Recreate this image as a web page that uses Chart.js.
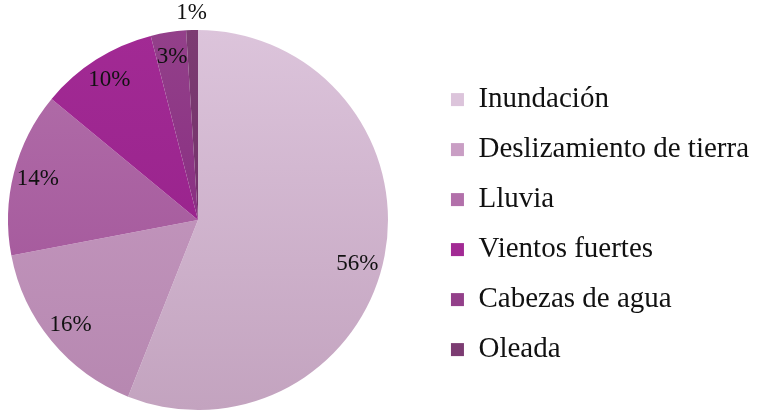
<!DOCTYPE html>
<html>
<head>
<meta charset="utf-8">
<script src="https://cdn.jsdelivr.net/npm/chart.js@4"></script>
<style>
  body { margin: 0; background: #fff; }
  #wrap { width: 759px; height: 411px; }
</style>
</head>
<body>
<div id="wrap"><canvas id="pie"></canvas></div>
<script>
const labels = ['Inundación', 'Deslizamiento de tierra', 'Lluvia', 'Vientos fuertes', 'Cabezas de agua', 'Oleada']
const values = [56, 16, 14, 10, 3, 1]
const topColors = ['#dcc4db', '#c99ec4', '#b270aa', '#a22a94', '#93408a', '#7c3c72']
const bottomColors = ['#c3a3bf', '#b687b0', '#9f4e96', '#931f88', '#80207a', '#6c2864']

function sliceColor(context) {
  const i = context.dataIndex
  const area = context.chart.chartArea
  if (!area || i === undefined) return topColors[i] || topColors[0]
  const grad = context.chart.ctx.createLinearGradient(0, area.top, 0, area.bottom)
  grad.addColorStop(0, topColors[i])
  grad.addColorStop(1, bottomColors[i])
  return grad
}

// the pie sits further left than the free area next to the legend
const pieLeft = {
  id: 'pieLeft',
  afterLayout(chart) {
    const area = chart.chartArea
    area.left = 396 - area.right
    area.width = area.right - area.left
  }
}

// percentage labels inside the slices, tiny ones outside
const pctLabels = {
  id: 'pctLabels',
  afterDatasetsDraw(chart) {
    const ctx = chart.ctx
    const meta = chart.getDatasetMeta(0)
    const total = values.reduce((a, b) => a + b, 0)
    ctx.save()
    ctx.font = '23px "Liberation Serif"'
    ctx.fillStyle = '#111'
    ctx.textAlign = 'center'
    ctx.textBaseline = 'middle'
    meta.data.forEach((arc, i) => {
      const share = values[i] / total
      // big slice label sits a bit lower, like the original best-fit placement
      const mid = (arc.startAngle + arc.endAngle) / 2 + (share > 0.5 ? 0.08 : 0)
      const r = share < 0.02 ? arc.outerRadius * 1.09 : arc.outerRadius * 0.87
      const x = arc.x + Math.cos(mid) * r
      const y = arc.y + Math.sin(mid) * r
      ctx.fillText(Math.round(share * 100) + '%', x, y)
    })
    ctx.restore()
  }
}

const ctx = document.getElementById('pie')
new Chart(ctx, {
  type: 'pie',
  data: {
    labels: labels,
    datasets: [{
      data: values,
      backgroundColor: sliceColor,
      borderWidth: 0,
      clip: false
    }]
  },
  options: {
    responsive: true,
    maintainAspectRatio: false,
    animation: false,
    layout: {
      padding: { left: 0, right: 0, top: 30, bottom: 1 }
    },
    plugins: {
      tooltip: { enabled: false },
      legend: {
        position: 'right',
        align: 'center',
        title: { display: true, text: ' ', color: '#111', font: { size: 6 }, padding: 1 },
        labels: {
          boxWidth: 13,
          boxHeight: 13,
          padding: 21,
          color: '#111',
          font: { family: '"Liberation Serif"', size: 29 },
          generateLabels(chart) {
            return labels.map((label, i) => ({
              text: label,
              fillStyle: topColors[i],
              strokeStyle: topColors[i],
              fontColor: '#111',
              lineWidth: 0,
              hidden: false,
              index: i
            }))
          }
        }
      }
    }
  },
  plugins: [pieLeft, pctLabels]
});
</script>
</body>
</html>
